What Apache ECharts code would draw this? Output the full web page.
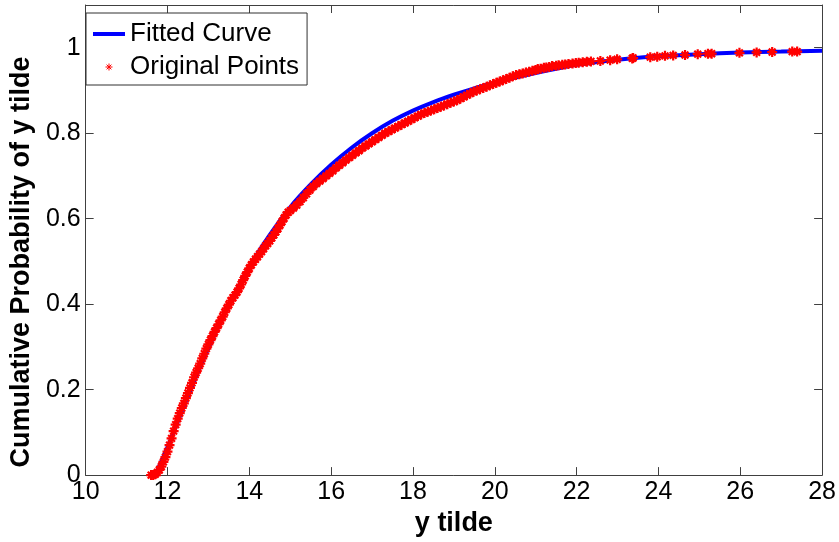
<!DOCTYPE html>
<html>
<head>
<meta charset="utf-8">
<script src="https://cdn.jsdelivr.net/npm/echarts@6/dist/echarts.min.js"></script>
<style>html,body{margin:0;padding:0;background:#fff}#chart{width:839px;height:542px}</style>
</head>
<body>
<div id="chart"></div>
<script>
// Axis tick labels
var xTicks = [10, 12, 14, 16, 18, 20, 22, 24, 26, 28];
var yTicks = [0, 0.2, 0.4, 0.6, 0.8, 1];

// Fitted curve (x, cumulative probability)
var fitX = [11.7, 12.0, 12.5, 13.0, 13.5, 14.0, 14.5, 15.0, 15.5, 16.0, 16.5, 17.0, 17.5, 18.0, 18.5, 19.0, 19.5, 20.0, 20.5, 21.0, 21.5, 22.0, 22.6, 23.3, 24.0, 25.0, 26.0, 27.0, 28.0];
var fitY = [0.0, 0.065, 0.185, 0.297, 0.397, 0.487, 0.562, 0.627, 0.680, 0.726, 0.766, 0.800, 0.829, 0.853, 0.873, 0.890, 0.905, 0.918, 0.930, 0.941, 0.951, 0.960, 0.968, 0.975, 0.980, 0.985, 0.989, 0.991, 0.993];

// Original points (x, cumulative probability)
var ptsX = [11.60, 11.65, 11.70, 11.75, 11.80, 11.85, 11.90, 11.95, 12.00, 12.05, 12.10, 12.15, 12.20, 12.25, 12.30, 12.35, 12.40, 12.45, 12.50, 12.55, 12.60, 12.65, 12.70, 12.75, 12.80, 12.85, 12.90, 12.95, 13.00, 13.05, 13.10, 13.15, 13.20, 13.25, 13.30, 13.35, 13.40, 13.45, 13.50, 13.55, 13.60, 13.65, 13.70, 13.75, 13.80, 13.85, 13.90, 13.95, 14.00, 14.05, 14.10, 14.15, 14.20, 14.25, 14.30, 14.35, 14.40, 14.45, 14.50, 14.55, 14.60, 14.65, 14.70, 14.75, 14.80, 14.85, 14.90, 14.95, 15.00,
  15.08, 15.16, 15.24, 15.32, 15.40, 15.48, 15.56, 15.64, 15.72, 15.80, 15.88, 15.96, 16.04, 16.12, 16.20, 16.28, 16.36, 16.44, 16.52, 16.60, 16.68, 16.76, 16.84, 16.92, 17.00, 17.08, 17.16, 17.24, 17.32, 17.40, 17.48, 17.56, 17.64, 17.72, 17.80, 17.88, 17.96, 18.04, 18.12, 18.20, 18.28, 18.36, 18.44, 18.52, 18.60, 18.68, 18.76, 18.84, 18.92, 19.00, 19.08, 19.16, 19.24, 19.32, 19.40, 19.48, 19.56, 19.64, 19.72, 19.80, 19.88, 19.96, 20.04, 20.12, 20.20, 20.28, 20.36, 20.44, 20.52, 20.60, 20.68, 20.76, 20.84, 20.92, 21.00,
  21.05, 21.12, 21.20, 21.26, 21.33, 21.40, 21.50, 21.56, 21.65, 21.72, 21.80, 21.90, 21.98, 22.05, 22.15, 22.25, 22.35, 22.58, 22.82, 22.99, 23.36, 23.38, 23.80, 23.97, 24.16, 24.36, 24.65, 24.96, 25.21, 25.30, 25.98, 26.40, 26.78, 27.27, 27.39];
var ptsY = [0.000, 0.000, 0.002, 0.006, 0.012, 0.020, 0.031, 0.042, 0.055, 0.070, 0.086, 0.103, 0.118, 0.132, 0.145, 0.157, 0.168, 0.180, 0.192, 0.204, 0.216, 0.229, 0.240, 0.250, 0.261, 0.273, 0.284, 0.296, 0.306, 0.316, 0.325, 0.335, 0.344, 0.353, 0.362, 0.371, 0.381, 0.390, 0.399, 0.408, 0.415, 0.421, 0.428, 0.437, 0.446, 0.456, 0.466, 0.475, 0.484, 0.492, 0.499, 0.505, 0.511, 0.517, 0.523, 0.530, 0.537, 0.542, 0.548, 0.555, 0.562, 0.569, 0.577, 0.585, 0.593, 0.601, 0.609, 0.615, 0.619,
  0.625, 0.632, 0.640, 0.649, 0.658, 0.667, 0.675, 0.682, 0.688, 0.694, 0.700, 0.706, 0.712, 0.719, 0.725, 0.731, 0.737, 0.743, 0.748, 0.754, 0.759, 0.765, 0.770, 0.775, 0.780, 0.785, 0.790, 0.795, 0.800, 0.804, 0.808, 0.812, 0.816, 0.820, 0.824, 0.828, 0.832, 0.836, 0.840, 0.844, 0.847, 0.850, 0.853, 0.856, 0.859, 0.862, 0.865, 0.868, 0.871, 0.874, 0.877, 0.881, 0.885, 0.889, 0.893, 0.897, 0.900, 0.903, 0.906, 0.909, 0.912, 0.915, 0.918, 0.921, 0.924, 0.927, 0.930, 0.933, 0.936, 0.938, 0.940, 0.942, 0.944, 0.946, 0.948,
  0.950, 0.951, 0.953, 0.954, 0.955, 0.957, 0.958, 0.959, 0.960, 0.961, 0.962, 0.963, 0.964, 0.965, 0.966, 0.967, 0.968, 0.969, 0.971, 0.973, 0.975, 0.976, 0.978, 0.979, 0.981, 0.982, 0.983, 0.985, 0.986, 0.986, 0.988, 0.989, 0.990, 0.991, 0.991];

var fitData = fitX.map(function (x, i) { return [x, fitY[i]]; });
var ptsData = ptsX.map(function (x, i) { return [x, ptsY[i]]; });

var asterisk = 'path://M5 0L5 10M0 5L10 5M1.6 1.6L8.4 8.4M8.4 1.6L1.6 8.4';
var lineIcon = 'path://M0 0H32V4H0Z';
var FONT = 'Liberation Sans';
var axisColor = '#404040';

var chart = echarts.init(document.getElementById('chart'), null, { renderer: 'canvas' });
var baseX = {
  type: 'value', min: 10, max: 28, interval: 2,
  axisLine: { show: true, onZero: false, lineStyle: { color: axisColor, width: 1 } },
  axisTick: { show: true, inside: true, length: 8, lineStyle: { color: axisColor } },
  splitLine: { show: false }
};
var baseY = {
  type: 'value', min: 0, max: 1.1,
  axisLine: { show: true, onZero: false, lineStyle: { color: axisColor, width: 1 } },
  axisTick: { show: true, inside: true, length: 8, customValues: yTicks, lineStyle: { color: axisColor } },
  splitLine: { show: false }
};

chart.setOption({
  animation: false,
  backgroundColor: '#ffffff',
  grid: { left: 82, right: 16, top: 5, bottom: 62, containLabel: false },
  legend: {
    left: 86, top: 13, orient: 'vertical',
    backgroundColor: '#ffffff',
    borderColor: '#303030', borderWidth: 1,
    padding: [8, 8, 5, 7],
    itemWidth: 32, itemHeight: 7, itemGap: 7,
    textStyle: { fontFamily: FONT, fontSize: 26, color: '#000000' },
    data: [
      { name: 'Fitted Curve', icon: lineIcon },
      { name: 'Original Points', icon: asterisk, itemStyle: { borderWidth: 1 } }
    ]
  },
  xAxis: [
    Object.assign({}, baseX, {
      position: 'bottom',
      name: 'y tilde', nameLocation: 'middle', nameGap: 28,
      nameTextStyle: { fontFamily: FONT, fontSize: 27, fontWeight: 'bold', color: '#000' },
      axisLabel: { show: true, margin: 5, fontFamily: FONT, fontSize: 25, color: '#000' }
    }),
    Object.assign({}, baseX, { position: 'top', axisLabel: { show: false } })
  ],
  yAxis: [
    Object.assign({}, baseY, {
      position: 'left',
      name: 'Cumulative Probability of y tilde', nameLocation: 'middle', nameGap: 46,
      nameTextStyle: { fontFamily: FONT, fontSize: 27, fontWeight: 'bold', color: '#000', padding: [0, 44, 0, 0] },
      axisLabel: { show: true, margin: 5, customValues: yTicks, fontFamily: FONT, fontSize: 25, color: '#000',
        formatter: function (v) { return String(+v.toFixed(1)); } }
    }),
    Object.assign({}, baseY, { position: 'right', axisLabel: { show: false } })
  ],
  series: [
    {
      name: 'Fitted Curve', type: 'line', data: fitData, smooth: 0.3,
      symbol: 'none', showSymbol: false,
      lineStyle: { color: '#0000ff', width: 4 },
      itemStyle: { color: '#0000ff' },
      z: 2
    },
    {
      name: 'Original Points', type: 'scatter', data: ptsData,
      symbol: asterisk, symbolSize: 10,
      itemStyle: { color: '#ff0000', borderColor: '#ff0000', borderWidth: 2.2, opacity: 1 },
      z: 3
    }
  ]
});
</script>
</body>
</html>
